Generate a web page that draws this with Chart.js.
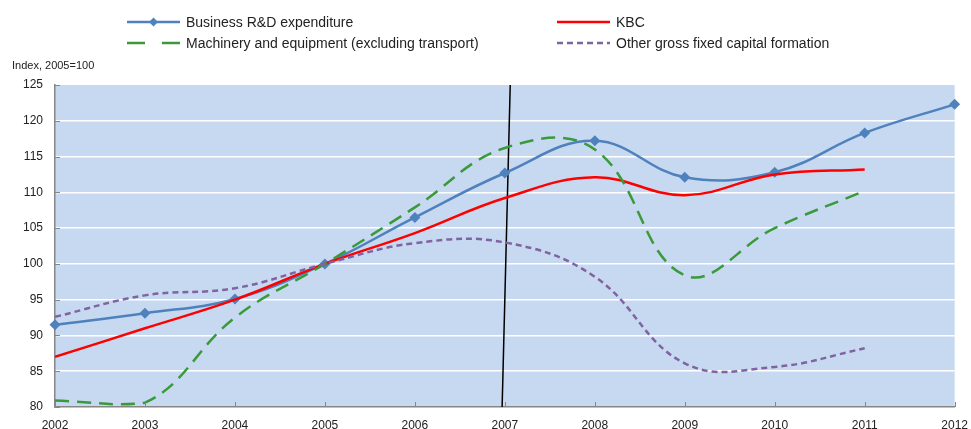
<!DOCTYPE html>
<html>
<head>
<meta charset="utf-8">
<script src="https://cdn.jsdelivr.net/npm/chart.js@4.4.1/dist/chart.umd.min.js"></script>
<style>
  body { margin: 0; background: #fff; font-family: "Liberation Sans", Arial, sans-serif; }
  #wrap { position: relative; width: 971px; height: 429px; }
  #chart { position: absolute; left: 0; top: 0; }
  .leg { position: absolute; font-size: 14px; color: #222; white-space: nowrap; height: 18px; line-height: 18px; }
  .leg svg { position: absolute; left: 0; top: 0; }
  .leg span { position: absolute; left: 59px; top: 0; }
  #ytitle { position: absolute; left: 12px; top: 59px; font-size: 11px; color: #222; }
</style>
</head>
<body>
<div id="wrap">
  <canvas id="chart" width="971" height="429"></canvas>
  <div class="leg" style="left:127px; top:13px;">
    <svg width="56" height="18"><line x1="0" y1="9" x2="53" y2="9" stroke="#4F81BD" stroke-width="2.5"/><polygon points="26.5,4.5 31,9 26.5,13.5 22,9" fill="#4F81BD"/></svg>
    <span>Business R&amp;D expenditure</span>
  </div>
  <div class="leg" style="left:127px; top:34px;">
    <svg width="56" height="18"><line x1="0" y1="9" x2="53" y2="9" stroke="#3A9A3A" stroke-width="2.5" stroke-dasharray="18,17"/></svg>
    <span>Machinery and equipment (excluding transport)</span>
  </div>
  <div class="leg" style="left:557px; top:13px;">
    <svg width="56" height="18"><line x1="0" y1="9" x2="53" y2="9" stroke="#FF0000" stroke-width="2.5"/></svg>
    <span>KBC</span>
  </div>
  <div class="leg" style="left:557px; top:34px;">
    <svg width="56" height="18"><line x1="0" y1="9" x2="53" y2="9" stroke="#8064A2" stroke-width="2.5" stroke-dasharray="6,4"/></svg>
    <span>Other gross fixed capital formation</span>
  </div>
  <div id="ytitle">Index, 2005=100</div>
</div>
<script>
// values
var years = [2002, 2003, 2004, 2005, 2006, 2007, 2008, 2009, 2010, 2011, 2012];
var businessRD = [91.5, 93.1, 95.1, 100, 106.5, 112.7, 117.2, 112.1, 112.8, 118.3, 122.3];
var kbc = [87.0, 91.0, 95.0, 100, 104.3, 109.2, 112.1, 109.6, 112.5, 113.2, null];
var machinery = [80.9, 80.6, 92.5, 100, 107.9, 116.2, 116.0, 98.4, 105.0, 110.2, null];
var otherGFCF = [92.6, 95.6, 96.6, 100, 102.9, 103.0, 98.2, 86.1, 85.6, 88.2, null];

// the black marker line around 2007 (slightly slanted)
var markerX = [2007.06, 2006.97];
var markerY = [125, 80];

var yTicks = [80, 85, 90, 95, 100, 105, 110, 115, 120, 125];

function pairs(xs, ys) {
    var out = [];
    for (var i = 0; i < xs.length; i++) {
        if (ys[i] != null) out.push({ x: xs[i], y: ys[i] });
    }
    return out;
}

// plot background + little inside tick marks
var plotDeco = {
    id: 'plotDeco',
    beforeDraw: function(chart) {
        var a = chart.chartArea, ctx = chart.ctx;
        ctx.save();
        ctx.fillStyle = '#C6D9F1';
        ctx.fillRect(a.left, a.top, a.right - a.left, a.bottom - a.top);
        ctx.restore();
    },
    afterDatasetsDraw: function(chart) {
        var a = chart.chartArea, ctx = chart.ctx;
        var xs = chart.scales.x, ys = chart.scales.y;
        ctx.save();
        ctx.strokeStyle = '#868686';
        ctx.lineWidth = 1;
        years.forEach(function(yr) {
            var px = Math.round(xs.getPixelForValue(yr)) + 0.5;
            ctx.beginPath();
            ctx.moveTo(px, a.bottom);
            ctx.lineTo(px, a.bottom - 5);
            ctx.stroke();
        });
        yTicks.forEach(function(v) {
            var py = Math.round(ys.getPixelForValue(v)) + 0.5;
            ctx.beginPath();
            ctx.moveTo(a.left, py);
            ctx.lineTo(a.left + 5, py);
            ctx.stroke();
        });
        ctx.restore();
    }
};

var ctx = document.getElementById('chart').getContext('2d');
var myChart = new Chart(ctx, {
    type: 'line',
    data: {
        datasets: [
            {
                label: 'Other gross fixed capital formation',
                data: pairs(years, otherGFCF),
                borderColor: '#8064A2',
                borderWidth: 2.5,
                borderDash: [6, 4],
                pointRadius: 0,
                tension: 0.4
            },
            {
                label: 'Machinery and equipment (excluding transport)',
                data: pairs(years, machinery),
                borderColor: '#3A9A3A',
                borderWidth: 2.5,
                borderDash: [14, 8],
                pointRadius: 0,
                tension: 0.4
            },
            {
                label: 'KBC',
                data: pairs(years, kbc),
                borderColor: '#FF0000',
                borderWidth: 2.5,
                pointRadius: 0,
                tension: 0.4
            },
            {
                label: 'Business R&D expenditure',
                data: pairs(years, businessRD),
                borderColor: '#4F81BD',
                backgroundColor: '#4F81BD',
                borderWidth: 2.5,
                pointStyle: 'rectRot',
                pointRadius: 5.5,
                pointBorderWidth: 0,
                tension: 0.4,
                clip: false
            },
            {
                label: 'marker',
                data: pairs(markerX, markerY),
                borderColor: '#000000',
                borderWidth: 1.5,
                pointRadius: 0,
                tension: 0
            }
        ]
    },
    options: {
        responsive: false,
        animation: false,
        layout: { padding: { top: 85, right: 14, bottom: 0, left: 0 } },
        plugins: {
            legend: { display: false },
            tooltip: { enabled: false }
        },
        scales: {
            x: {
                type: 'linear',
                min: 2002,
                max: 2012,
                afterBuildTicks: function(scale) {
                    scale.ticks = years.map(function(v) { return { value: v }; });
                },
                afterFit: function(scale) { scale.height = 22; },
                grid: { display: false },
                border: { display: true, color: '#868686', width: 1.5 },
                ticks: {
                    callback: function(v) { return String(v); },
                    color: '#222',
                    font: { family: 'Liberation Sans', size: 12 },
                    padding: 3,
                    maxRotation: 0
                }
            },
            y: {
                min: 80,
                max: 125,
                afterBuildTicks: function(scale) {
                    scale.ticks = yTicks.map(function(v) { return { value: v }; });
                },
                afterFit: function(scale) { scale.width = 55; },
                grid: {
                    color: function(c) { return (c.tick && (c.tick.value === 80 || c.tick.value === 125)) ? 'rgba(0,0,0,0)' : '#FFFFFF'; },
                    lineWidth: 1.5,
                    drawTicks: false
                },
                border: { display: true, color: '#868686', width: 1.5 },
                ticks: {
                    color: '#222',
                    font: { family: 'Liberation Sans', size: 12 },
                    padding: 12
                }
            }
        }
    },
    plugins: [plotDeco]
});
</script>
</body>
</html>
